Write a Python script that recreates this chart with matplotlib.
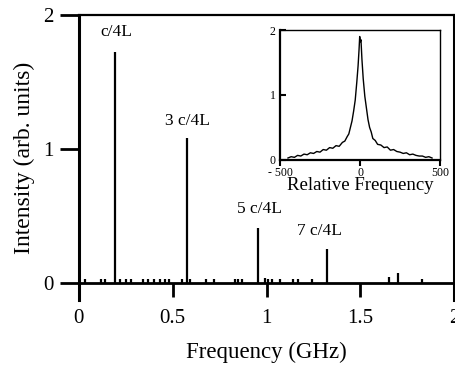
import matplotlib.pyplot as plt

plt.rcParams['font.family'] = ['Liberation Serif', 'DejaVu Serif']

# main spectrum: mode peaks
peak_freq = [0.193, 0.578, 0.952, 1.323]
peak_height = [1.72, 1.08, 0.41, 0.25]
peak_label = ['c/4L', '3 c/4L', '5 c/4L', '7 c/4L']
label_x = [0.20, 0.58, 0.96, 1.28]
label_y = [1.87, 1.21, 0.55, 0.39]

# small noise spikes along the baseline
blip_freq = [0.035, 0.12, 0.14, 0.22, 0.25, 0.28, 0.34, 0.37, 0.40, 0.43,
             0.46, 0.48, 0.55, 0.59, 0.68, 0.72, 0.83, 0.85, 0.87, 0.99,
             1.01, 1.03, 1.07, 1.14, 1.17, 1.24, 1.65, 1.70, 1.83]
blip_height = [0.03, 0.03, 0.03, 0.025, 0.025, 0.025, 0.025, 0.025, 0.025, 0.025,
               0.03, 0.025, 0.03, 0.025, 0.03, 0.03, 0.03, 0.03, 0.03, 0.035,
               0.03, 0.03, 0.03, 0.03, 0.025, 0.03, 0.04, 0.07, 0.03]

# inset: single mode line shape
rel_freq = [-450, -430, -410, -390, -370, -350, -330, -310, -290, -270, -250,
            -230, -210, -190, -170, -150, -130, -110, -95, -80, -70, -60, -50,
            -40, -30, -20, -12, -6, -2, 2, 6, 12, 20, 30, 40, 50, 60, 70, 80,
            95, 110, 130, 150, 170, 190, 210, 230, 250, 270, 290, 310, 330,
            350, 370, 390, 410, 430, 450]
rel_int = [0.03, 0.05, 0.04, 0.07, 0.06, 0.09, 0.08, 0.11, 0.10, 0.13, 0.12,
           0.16, 0.15, 0.19, 0.18, 0.22, 0.21, 0.27, 0.29, 0.36, 0.40, 0.50, 0.60,
           0.75, 0.92, 1.20, 1.45, 1.70, 1.90, 1.82, 1.85, 1.55, 1.25, 0.98, 0.80,
           0.62, 0.50, 0.43, 0.33, 0.30, 0.24, 0.23, 0.19, 0.20, 0.15, 0.16, 0.13,
           0.12, 0.10, 0.11, 0.08, 0.09, 0.07, 0.06, 0.06, 0.04, 0.05, 0.03]

fig = plt.figure(figsize=(4.56, 3.66), dpi=100)
ax = fig.add_axes([0.173, 0.180, 0.823, 0.779])

ax.vlines(peak_freq, 0, peak_height, color='black', lw=1.6)
ax.vlines(blip_freq, 0, blip_height, color='black', lw=1.6)
for x, y, s in zip(label_x, label_y, peak_label):
    ax.text(x, y, s, ha='center', va='center', fontsize=12.5)

ax.set_xlim(0, 2)
ax.set_ylim(-0.13, 2)
ax.spines['bottom'].set_position(('data', 0))
ax.spines['bottom'].set_linewidth(2)
ax.spines['left'].set_linewidth(2.2)
ax.spines['right'].set_linewidth(2.2)
ax.spines['top'].set_linewidth(1.6)
ax.set_xticks([0, 0.5, 1, 1.5, 2])
ax.set_xticklabels(['0', '0.5', '1', '1.5', '2'])
ax.set_yticks([0, 1, 2])
ax.tick_params(axis='x', direction='out', length=10, width=2, pad=9, labelsize=15)
ax.tick_params(axis='y', direction='out', length=14, width=2, pad=4, labelsize=15)
ax.set_xlabel('Frequency (GHz)', fontsize=16.5)
ax.set_ylabel('Intensity (arb. units)', fontsize=17, labelpad=6)
ax.xaxis.set_label_coords(0.5, -0.145)

# inset
ins = fig.add_axes([0.614, 0.563, 0.351, 0.355])
ins.plot(rel_freq, rel_int, color='black', lw=1.0)
ins.set_xlim(-500, 500)
ins.set_ylim(0, 2)
ins.set_xticks([-500, 0, 500])
ins.set_xticklabels(['- 500', '0', '500'])
ins.set_yticks([0, 1, 2])
ins.spines['left'].set_linewidth(1.6)
ins.spines['bottom'].set_linewidth(1.6)
ins.spines['top'].set_linewidth(1.0)
ins.spines['right'].set_linewidth(1.0)
ins.tick_params(axis='y', direction='in', length=4, width=1.5, pad=3, labelsize=8.5)
ins.tick_params(axis='x', direction='out', length=4, width=1.5, pad=1, labelsize=8.5)
ins.set_xlabel('Relative Frequency', fontsize=13.5, labelpad=-1)

fig.savefig('out.png', dpi=100)
